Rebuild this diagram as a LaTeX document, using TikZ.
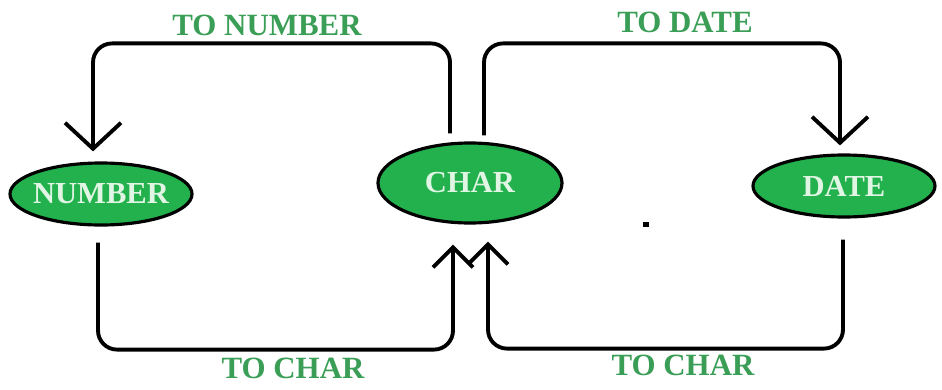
\documentclass[tikz,border=0pt]{standalone}
\usepackage{fontspec}
\setmainfont{Liberation Serif}
\usetikzlibrary{shapes.geometric, arrows.meta, positioning, calc}
\definecolor{paintgreen}{RGB}{34,177,76}
\definecolor{labelgreen}{RGB}{58,158,86}
\definecolor{typelight}{RGB}{225,245,228}

\begin{document}
\begin{tikzpicture}[
    typenode/.style={
      ellipse, draw=black, line width=1.8pt, fill=paintgreen,
      inner xsep=-0.5cm, inner ysep=0pt, text=typelight,
      font=\fontsize{17.4}{20}\selectfont\bfseries
    },
    convlabel/.style={font=\fontsize{17.6}{20}\selectfont\bfseries, text=labelgreen},
    flow/.style={line width=2.2pt, rounded corners=0.38cm},
    bigtip/.style={-{Straight Barb[length=0.52cm, width=1.12cm, line width=2.2pt]}},
    smalltip/.style={-{Straight Barb[length=0.40cm, width=0.80cm, line width=2.2pt]}}
  ]
    \useasboundingbox (0,0) rectangle (18.84,7.78);

    % Data types
    \node[typenode, minimum width=3.64cm, minimum height=1.24cm] (number) at (2.02,3.90) {NUMBER};
    \node[typenode, minimum width=3.68cm, minimum height=1.60cm] (char) at (9.40,4.12) {CHAR};
    \node[typenode, minimum width=3.64cm, minimum height=1.24cm] (date) at (16.88,4.06) {DATE};

    % Conversions between CHAR and NUMBER
    \draw[flow, bigtip, shorten <=0.16cm, shorten >=0.20cm]
      ([xshift=-0.40cm]char.north) -- ++(0,1.96) -| ([xshift=-0.16cm]number.north);
    \draw[flow, smalltip, shorten <=0.32cm, shorten >=0.40cm]
      ([xshift=-0.06cm]number.south) -- ++(0,-2.46) -| ([xshift=-0.34cm]char.south);

    % Conversions between CHAR and DATE
    \draw[flow, bigtip, shorten <=0.12cm, shorten >=0.16cm]
      ([xshift=0.28cm]char.north) -- ++(0,1.96) -| ([xshift=-0.08cm]date.north);
    \draw[flow, smalltip, shorten <=0.42cm, shorten >=0.34cm]
      ([xshift=-0.02cm]date.south) -- ++(0,-2.60) -| ([xshift=0.36cm]char.south);

    % Labels
    \node[convlabel] (tonumber) at (5.34,7.28) {TO NUMBER};
    \node[convlabel] (tochar1) at (5.86,0.42) {TO CHAR};
    \node[convlabel] (todate) at (13.70,7.34) {TO DATE};
    \node[convlabel] (tochar2) at (13.66,0.48) {TO CHAR};

    % stray dot
    \fill (12.86,3.24) rectangle (12.98,3.34);
\end{tikzpicture}
\end{document}
